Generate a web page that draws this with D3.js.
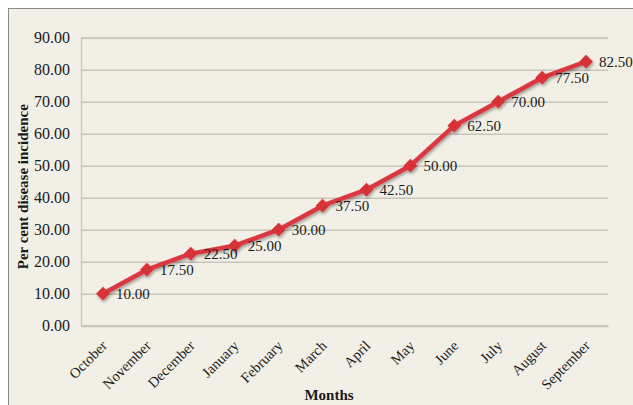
<!DOCTYPE html>
<html>
<head>
<meta charset="utf-8">
<script src="https://cdn.jsdelivr.net/npm/d3@7"></script>
<style>
  html, body { margin: 0; padding: 0; background: #ffffff; }
  svg { display: block; }
  text { font-family: "Liberation Serif", "Times New Roman", serif; fill: #1a1a1a; }
</style>
</head>
<body>
<svg id="chart" width="633" height="405"></svg>
<script>
const months = ["October","November","December","January","February","March","April","May","June","July","August","September"];
const incidence = [10.00, 17.50, 22.50, 25.00, 30.00, 37.50, 42.50, 50.00, 62.50, 70.00, 77.50, 82.50];
const yTicks = [0, 10, 20, 30, 40, 50, 60, 70, 80, 90];
const yTitle = "Per cent disease incidence";
const xTitle = "Months";

const svg = d3.select("#chart");
const W = 633, H = 405;
const plot = { left: 81, right: 608, top: 37.7, bottom: 325.7 };

// outer frame
svg.append("rect").attr("x", 8.5).attr("y", 8.5).attr("width", W + 10).attr("height", H + 10)
  .attr("fill", "#f2efe6").attr("stroke", "#8a8a8a").attr("stroke-width", 1);

const x = d3.scaleBand().domain(months).range([plot.left, plot.right]);
const y = d3.scaleLinear().domain([0, 90]).range([plot.bottom, plot.top]);

// gridlines
const yAxis = d3.axisLeft(y).tickValues(yTicks).tickFormat(d3.format(".2f"))
  .tickSize(-(plot.right - plot.left)).tickPadding(11);
const gy = svg.append("g").attr("transform", `translate(${plot.left},0)`).call(yAxis);
gy.select(".domain").attr("stroke", "#c8c4b9").attr("stroke-width", 1.2);
gy.selectAll(".tick line").attr("stroke", "#c8c4b9").attr("stroke-width", 1.5);
gy.selectAll(".tick text").attr("font-size", 16).attr("fill", "#1a1a1a")
  .style("font-family", "'Liberation Serif', serif");

// x axis
const xAxis = d3.axisBottom(x).tickSize(0).tickPadding(0);
const gx = svg.append("g").attr("transform", `translate(0,${plot.bottom})`).call(xAxis);
gx.select(".domain").attr("stroke", "#c8c4b9").attr("stroke-width", 2);
gx.selectAll(".tick text")
  .attr("font-size", 14.5).attr("fill", "#1a1a1a")
  .style("font-family", "'Liberation Serif', serif")
  .attr("text-anchor", "end")
  .attr("dy", 0)
  .attr("transform", "translate(5,21) rotate(-45)");

// shadow filter
const defs = svg.append("defs");
const f = defs.append("filter").attr("id", "sh").attr("x", "-20%").attr("y", "-20%").attr("width", "140%").attr("height", "140%");
f.append("feGaussianBlur").attr("in", "SourceAlpha").attr("stdDeviation", 1.5).attr("result", "b");
f.append("feOffset").attr("in", "b").attr("dx", 1).attr("dy", 2).attr("result", "o");
f.append("feComponentTransfer").attr("in", "o").attr("result", "o2")
  .append("feFuncA").attr("type", "linear").attr("slope", 0.35);
const m = f.append("feMerge");
m.append("feMergeNode").attr("in", "o2");
m.append("feMergeNode").attr("in", "SourceGraphic");

const cx = d => x(d.m) + x.bandwidth() / 2;
const data = months.map((mo, i) => ({ m: mo, v: incidence[i] }));

const g = svg.append("g").attr("filter", "url(#sh)");
g.append("path").datum(data)
  .attr("fill", "none").attr("stroke", "#d9393f").attr("stroke-width", 4.5)
  .attr("stroke-linejoin", "round")
  .attr("d", d3.line().x(cx).y(d => y(d.v)));

g.selectAll("path.mk").data(data).enter().append("path").attr("class", "mk")
  .attr("d", d3.symbol().type(d3.symbolDiamond2).size(120))
  .attr("transform", d => `translate(${cx(d)},${y(d.v)})`)
  .attr("fill", "#d63239");

// value labels
svg.selectAll("text.lbl").data(data).enter().append("text").attr("class", "lbl")
  .attr("x", d => cx(d) + 13).attr("y", d => y(d.v) + 5)
  .attr("font-size", 15).attr("fill", "#1a1a1a")
  .text(d => d3.format(".2f")(d.v));

// titles
svg.append("text").attr("transform", `translate(28,${(plot.top + plot.bottom) / 2 + 5}) rotate(-90)`)
  .attr("text-anchor", "middle").attr("font-size", 15).attr("font-weight", "bold").text(yTitle);
svg.append("text").attr("x", 329).attr("y", 400)
  .attr("text-anchor", "middle").attr("font-size", 15).attr("font-weight", "bold").text(xTitle);
</script>
</body>
</html>
